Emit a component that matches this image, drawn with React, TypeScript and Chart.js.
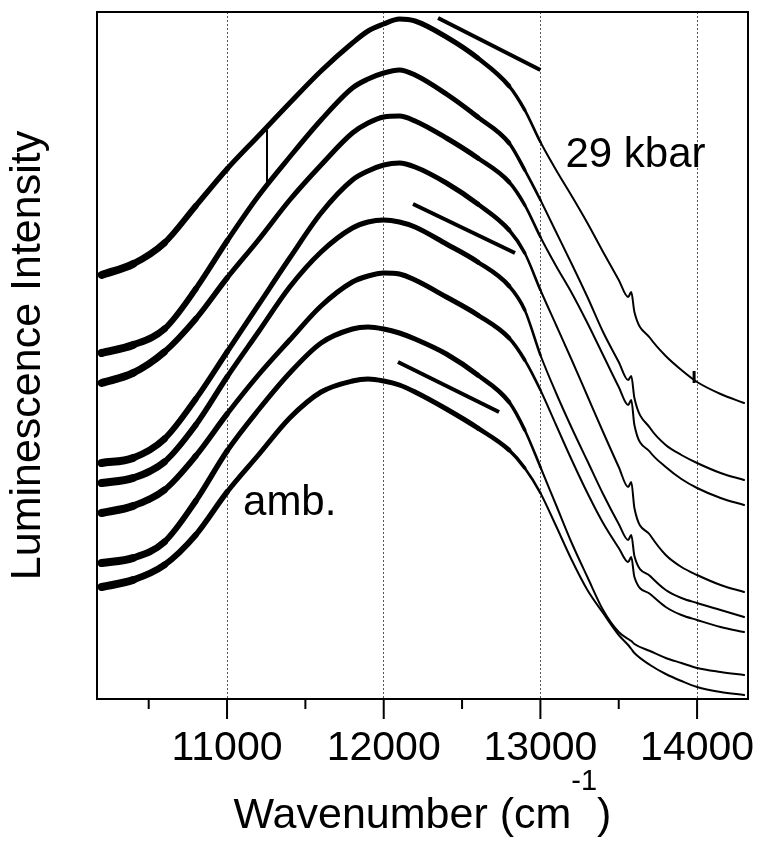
import React, { useEffect, useRef } from 'react';
import { Chart, registerables } from 'chart.js';

Chart.register(...registerables);

const FONT = "'Liberation Sans', Arial, Helvetica, sans-serif";

// Wavenumber grid (cm^-1) shared by all spectra
const wavenumbers = [10200, 10400, 10600, 10800, 11000, 11200, 11400, 11600, 11800, 11900, 12000, 12100, 12200, 12400, 12600, 12800, 12900, 13000, 13100, 13200, 13300, 13400, 13500, 13560, 13580, 13600, 13700, 13800, 13900, 14000, 14150, 14300];

// Luminescence intensity (arbitrary units, vertically offset spectra), top = 29 kbar, bottom = ambient
const spectrum29kbar = [424, 435, 456, 493, 530, 563, 596, 628, 656, 668, 675, 680, 678, 662, 641, 613, 589, 557, 529, 503, 476, 447, 419, 402, 407, 387, 361, 343, 329, 317, 305, 296];
const spectrum2 = [346, 354, 370, 410, 458, 503, 542, 579, 611, 620, 626, 629, 624, 605, 582, 556, 529, 499, 467, 435, 402, 367, 337, 319, 323, 301, 271, 254, 244, 236, 226, 219];
const spectrum3 = [316, 326, 347, 380, 421, 459, 499, 534, 566, 576, 582, 583, 578, 561, 541, 517, 494, 462, 433, 406, 376, 344, 312, 294, 299, 274, 247, 232, 220, 211, 201, 194];
const spectrum4 = [236, 241, 260, 300, 347, 394, 441, 486, 519, 528, 534, 536, 532, 516, 495, 469, 446, 409, 374, 339, 303, 267, 232, 212, 217, 191, 164, 144, 132, 124, 114, 107];
const spectrum5 = [216, 221, 237, 274, 322, 367, 412, 447, 471, 477, 479, 477, 472, 455, 437, 413, 389, 344, 306, 271, 238, 205, 175, 159, 164, 143, 123, 109, 101, 96, 89, 82];
const spectrum6 = [186, 193, 209, 243, 285, 324, 359, 393, 417, 423, 426, 425, 419, 402, 384, 361, 339, 309, 274, 239, 206, 176, 151, 137, 142, 122, 105, 92, 84, 79, 72, 67];
const spectrum7 = [136, 141, 157, 198, 248, 289, 326, 356, 370, 372, 370, 366, 360, 345, 324, 297, 269, 232, 194, 156, 122, 89, 67, 60, 58, 55, 48, 41, 36, 31, 27, 24];
const spectrumAmbient = [112, 119, 134, 164, 207, 244, 281, 307, 318, 320, 318, 314, 307, 290, 271, 249, 231, 206, 173, 139, 109, 86, 64, 54, 50, 46, 34, 25, 18, 12, 7, 4];

const spectra = [spectrum29kbar, spectrum2, spectrum3, spectrum4, spectrum5, spectrum6, spectrum7, spectrumAmbient];

// Axis ticks
const majorTicks = [11000, 12000, 13000, 14000];
const minorTicks = [10500, 11500, 12500, 13500];
const tickLabels = ['11000', '12000', '13000', '14000'];

// Slope guide bars
const slopeBar1X = [12347, 13000];
const slopeBar1Y = [681, 629];
const slopeBar2X = [12187, 12838];
const slopeBar2Y = [495, 446];
const slopeBar3X = [12091, 12736];
const slopeBar3Y = [337, 287];

// Short vertical marks
const mark1X = [11255, 11255];
const mark1Y = [516, 569];
const mark2X = [13981, 13981];
const mark2Y = [316, 328];

// Text annotations
const annotationTexts = ['29 kbar', 'amb.'];
const annotationX = [13160, 11102];
const annotationY = [532, 184];

const xTitleMain = 'Wavenumber (cm';
const xTitleSup = '-1';
const xTitleEnd = ')';
const yTitle = 'Luminescence Intensity';

const widthAt = (x: number) =>
  x < 10400 ? 8 : x < 10600 ? 7 : x < 10800 ? 6 : x < 11000 ? 5.5 : x < 12600 ? 5 : x < 12800 ? 4.5 : x < 12900 ? 3.5 : x < 13000 ? 2.6 : 2;

const framePlugin = {
  id: 'frameAndText',
  afterDraw(chart: any) {
    const { ctx, chartArea: a, scales } = chart;
    const xs = scales.x;
    const ys = scales.y;
    ctx.save();
    ctx.strokeStyle = '#000';
    ctx.lineWidth = 2;
    ctx.strokeRect(a.left, a.top, a.right - a.left, a.bottom - a.top);
    ctx.beginPath();
    majorTicks.forEach((v) => {
      const px = xs.getPixelForValue(v);
      ctx.moveTo(px, a.bottom);
      ctx.lineTo(px, a.bottom + 20);
    });
    minorTicks.forEach((v) => {
      const px = xs.getPixelForValue(v);
      ctx.moveTo(px, a.bottom);
      ctx.lineTo(px, a.bottom + 10);
    });
    ctx.stroke();

    ctx.fillStyle = '#000';
    ctx.textBaseline = 'alphabetic';
    ctx.textAlign = 'left';
    ctx.font = `42px ${FONT}`;
    annotationTexts.forEach((t, i) => {
      ctx.fillText(t, xs.getPixelForValue(annotationX[i]), ys.getPixelForValue(annotationY[i]));
    });

    // x-axis title with superscript
    ctx.font = `43px ${FONT}`;
    const mainW = ctx.measureText(xTitleMain).width;
    const endW = ctx.measureText(xTitleEnd).width;
    ctx.font = `29px ${FONT}`;
    const supW = ctx.measureText(xTitleSup).width;
    const total = mainW + supW + endW;
    const cx = (a.left + a.right) / 2;
    const base = a.bottom + 129;
    let x0 = cx - total / 2;
    ctx.font = `43px ${FONT}`;
    ctx.fillText(xTitleMain, x0, base);
    x0 += mainW;
    ctx.font = `29px ${FONT}`;
    ctx.fillText(xTitleSup, x0, base - 38);
    x0 += supW;
    ctx.font = `43px ${FONT}`;
    ctx.fillText(xTitleEnd, x0, base);
    ctx.restore();
  },
};

export default function App() {
  const canvasRef = useRef<HTMLCanvasElement | null>(null);

  useEffect(() => {
    const canvas = canvasRef.current;
    if (!canvas) return;

    const curveSets = spectra.map((arr) => ({
      data: wavenumbers.map((w, i) => ({ x: w, y: arr[i] })),
      borderColor: '#000',
      borderWidth: 2,
      pointRadius: 0,
      cubicInterpolationMode: 'monotone' as const,
      borderCapStyle: 'round' as const,
      borderJoinStyle: 'round' as const,
      fill: false,
      segment: {
        borderWidth: (c: any) => widthAt(c.p0.parsed.x),
      },
    }));

    const straight = (xsArr: number[], ysArr: number[], w: number) => ({
      data: xsArr.map((x, i) => ({ x, y: ysArr[i] })),
      borderColor: '#000',
      borderWidth: w,
      pointRadius: 0,
      tension: 0,
      fill: false,
    });

    const chart = new Chart(canvas, {
      type: 'line',
      data: {
        datasets: [
          ...curveSets,
          straight(slopeBar1X, slopeBar1Y, 4),
          straight(slopeBar2X, slopeBar2Y, 4),
          straight(slopeBar3X, slopeBar3Y, 4),
          straight(mark1X, mark1Y, 2),
          straight(mark2X, mark2Y, 3),
        ] as any,
      },
      options: {
        animation: false,
        responsive: false,
        devicePixelRatio: 1,
        events: [],
        layout: { padding: { left: 0, right: 15, top: 12, bottom: 0 } },
        plugins: {
          legend: { display: false },
          tooltip: { enabled: false },
        },
        scales: {
          x: {
            type: 'linear',
            min: 10170,
            max: 14325,
            afterBuildTicks: (scale: any) => {
              scale.ticks = majorTicks.map((v) => ({ value: v }));
            },
            afterFit: (scale: any) => {
              scale.height = 143;
              scale.paddingLeft = 0;
              scale.paddingRight = 0;
            },
            ticks: {
              padding: 25,
              color: '#000',
              autoSkip: false,
              maxRotation: 0,
              font: { family: FONT, size: 41, lineHeight: 1.2 },
              callback: (value: any) => {
                const i = majorTicks.indexOf(Number(value));
                return i >= 0 ? tickLabels[i] : '';
              },
            },
            grid: {
              display: true,
              drawTicks: false,
              color: '#555',
              lineWidth: 1,
            },
            border: { display: false, dash: [2, 2] },
          },
          y: {
            type: 'linear',
            min: 0,
            max: 687,
            afterFit: (scale: any) => {
              scale.width = 97;
              scale.paddingTop = 0;
              scale.paddingBottom = 0;
            },
            ticks: { display: false },
            grid: { display: false },
            border: { display: false },
            title: {
              display: true,
              text: yTitle,
              color: '#000',
              font: { family: FONT, size: 43, lineHeight: 1.2 },
              padding: { top: 2, bottom: 0 },
            },
          },
        },
      } as any,
      plugins: [framePlugin],
    });

    return () => {
      chart.destroy();
    };
  }, []);

  return (
    <div style={{ position: 'absolute', left: 0, top: 0, width: 763, height: 842, background: '#fff' }}>
      <canvas ref={canvasRef} width={763} height={842} style={{ display: 'block' }} />
    </div>
  );
}
